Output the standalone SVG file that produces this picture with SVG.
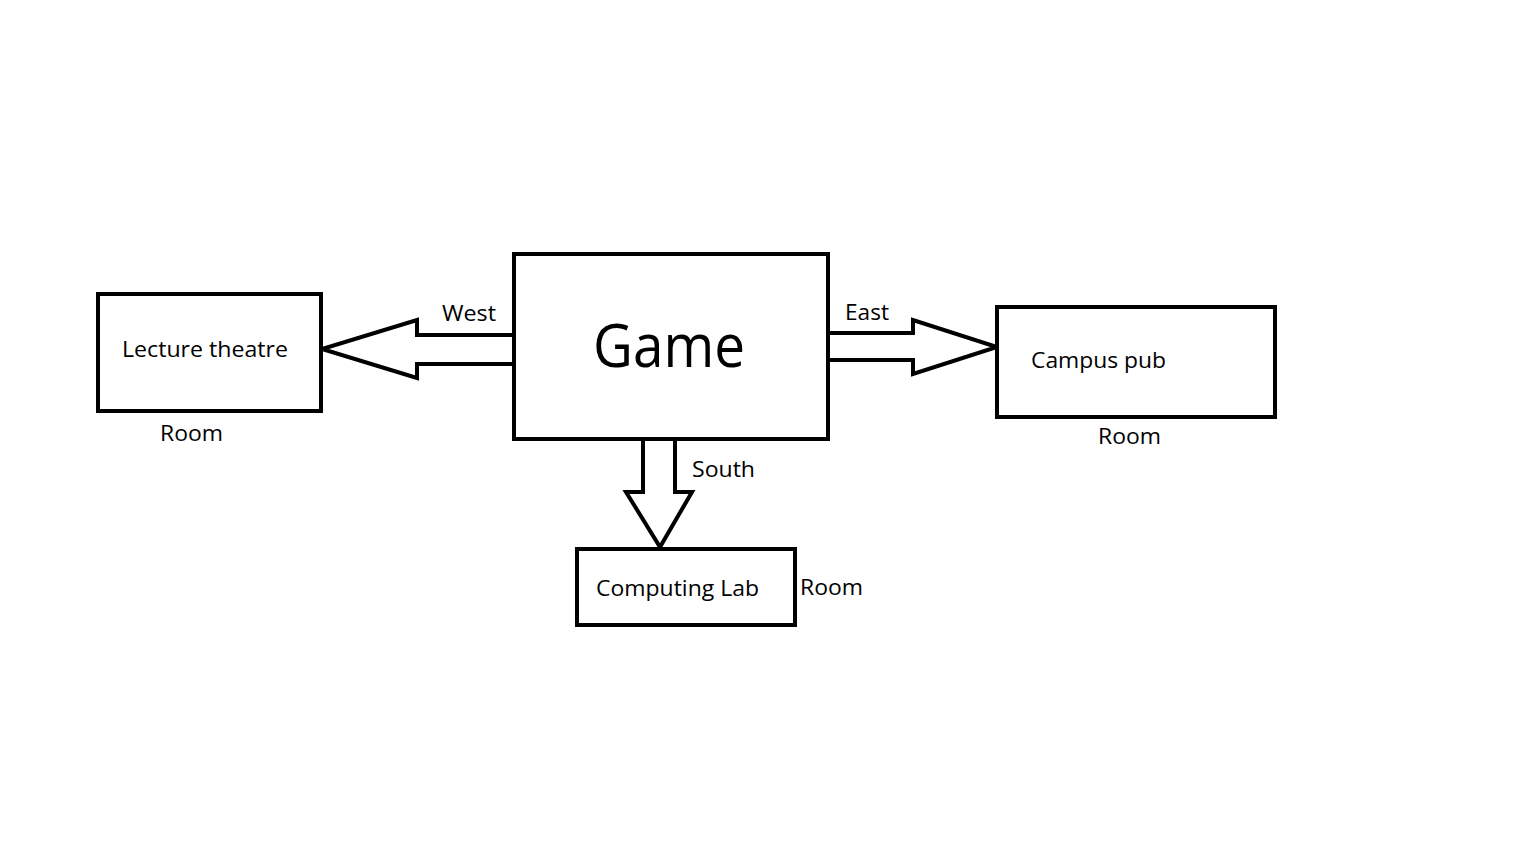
<svg xmlns="http://www.w3.org/2000/svg" width="1536" height="864" viewBox="0 0 1536 864">
<style>
.box{fill:#fff;stroke:#000;stroke-width:4}
.arr{fill:#fff;stroke:#000;stroke-width:4;stroke-linejoin:miter}
.t{font-family:"Open Sans","Noto Sans","Liberation Sans",sans-serif;font-size:21px;fill:#000}
.big{font-family:"Open Sans","Noto Sans","Liberation Sans",sans-serif;font-size:60px;fill:#000}
</style>
<rect width="1536" height="864" fill="#fff"/>
<g id="connectors">
<path class="arr" d="M514,335 L417,335 L417,320 L322,349 L417,378 L417,364 L514,364"/>
<path class="arr" d="M829,333 L913,333 L913,320 L997,347 L913,374 L913,360 L829,360"/>
<path class="arr" d="M643,438 L643,492 L626,492 L660,547 L692,492 L675,492 L675,438"/>
<text class="t" x="442" y="321" textLength="54" lengthAdjust="spacingAndGlyphs">West</text>
<text class="t" x="845" y="320" textLength="44" lengthAdjust="spacingAndGlyphs">East</text>
<text class="t" x="692" y="477" textLength="63" lengthAdjust="spacingAndGlyphs">South</text>
</g>
<g id="game">
<rect class="box" x="514" y="254" width="314" height="185"/>
<text class="big" x="593" y="367" textLength="152" lengthAdjust="spacingAndGlyphs">Game</text>
</g>
<g id="lecture">
<rect class="box" x="98" y="294" width="223" height="117"/>
<text class="t" x="122" y="357" textLength="166" lengthAdjust="spacingAndGlyphs">Lecture theatre</text>
<text class="t" x="160" y="441" textLength="63" lengthAdjust="spacingAndGlyphs">Room</text>
</g>
<g id="pub">
<rect class="box" x="997" y="307" width="278" height="110"/>
<text class="t" x="1031" y="368" textLength="135" lengthAdjust="spacingAndGlyphs">Campus pub</text>
<text class="t" x="1098" y="444" textLength="63" lengthAdjust="spacingAndGlyphs">Room</text>
</g>
<g id="lab">
<rect class="box" x="577" y="549" width="218" height="76"/>
<text class="t" x="596" y="596" textLength="163" lengthAdjust="spacingAndGlyphs">Computing Lab</text>
<text class="t" x="800" y="595" textLength="63" lengthAdjust="spacingAndGlyphs">Room</text>
</g>
</svg>
